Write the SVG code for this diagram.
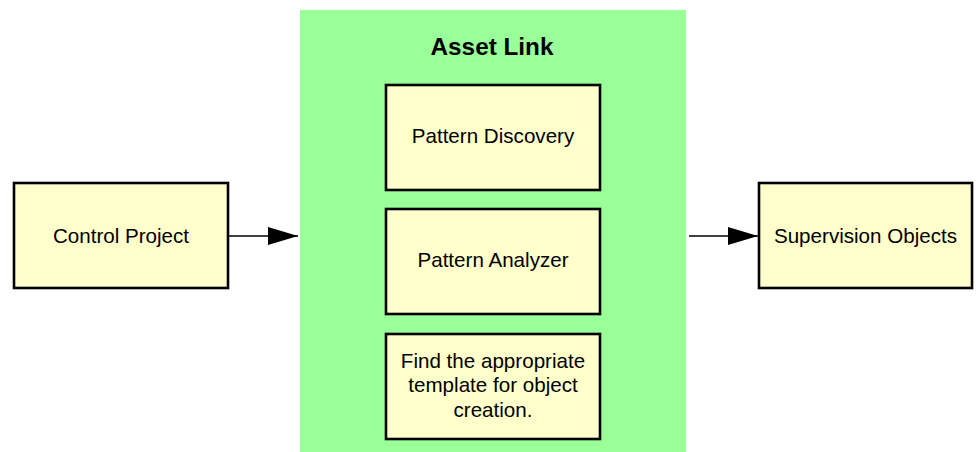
<svg xmlns="http://www.w3.org/2000/svg" width="976" height="452" viewBox="0 0 976 452">
  <defs>
    <style>
      .box { fill: #ffffcc; stroke: #000; stroke-width: 2.6; }
      .lbl { font-family: "Liberation Sans", Arial, sans-serif; font-size: 20.6px; fill: #000; text-anchor: middle; }
      .title { font-family: "Liberation Sans", Arial, sans-serif; font-size: 24.3px; font-weight: bold; fill: #000; text-anchor: middle; }
      .conn { stroke: #000; stroke-width: 1.5; fill: none; }
    </style>
    <marker id="arrow" viewBox="0 0 30 18" refX="30" refY="9" markerWidth="30" markerHeight="18" markerUnits="userSpaceOnUse" orient="auto">
      <path d="M0,0 L30,9 L0,18 Z" fill="#000"/>
    </marker>
  </defs>
  <rect width="976" height="452" fill="#fff"/>

  <g id="asset-link">
    <rect x="300" y="10" width="386" height="442" fill="#99ff99"/>
    <text class="title" x="492" y="55">Asset Link</text>
  </g>

  <g id="control-project">
    <rect class="box" x="14" y="183" width="214" height="105"/>
    <text class="lbl" x="121" y="243">Control Project</text>
  </g>

  <g id="pattern-discovery">
    <rect class="box" x="386" y="85" width="214" height="105"/>
    <text class="lbl" x="493" y="143">Pattern Discovery</text>
  </g>

  <g id="pattern-analyzer">
    <rect class="box" x="386" y="209" width="214" height="105"/>
    <text class="lbl" x="493" y="267">Pattern Analyzer</text>
  </g>

  <g id="template-finder">
    <rect class="box" x="386" y="334" width="214" height="105"/>
    <text class="lbl" x="493" y="368">Find the appropriate</text>
    <text class="lbl" x="493" y="392">template for object</text>
    <text class="lbl" x="493" y="417">creation.</text>
  </g>

  <g id="supervision-objects">
    <rect class="box" x="759" y="183" width="213" height="105"/>
    <text class="lbl" x="865.5" y="243">Supervision Objects</text>
  </g>

  <g id="connectors">
    <line class="conn" x1="229" y1="236" x2="298" y2="236" marker-end="url(#arrow)"/>
    <line class="conn" x1="689" y1="236" x2="758" y2="236" marker-end="url(#arrow)"/>
  </g>
</svg>
